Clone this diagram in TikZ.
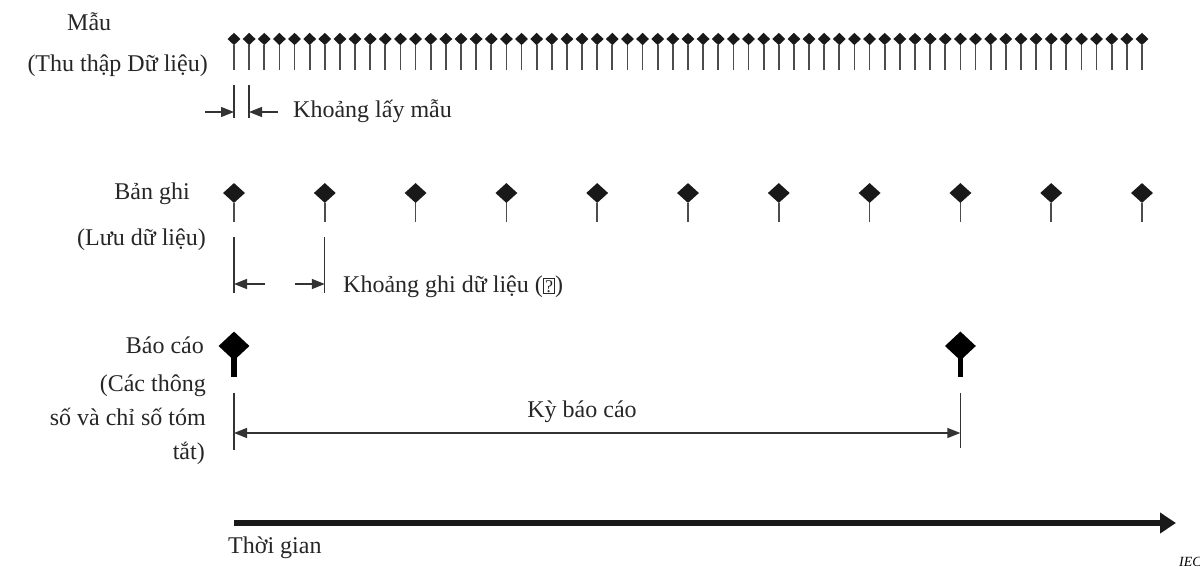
\documentclass[tikz,border=0pt]{standalone}
\usepackage{fontspec}
\setmainfont{Liberation Serif}
\usetikzlibrary{shapes.geometric,arrows.meta}
\begin{document}
\begin{tikzpicture}[x=1pt,y=-1pt,
 lbl/.style={font=\fontsize{24}{28}\selectfont, inner sep=0, text=black!85},
 smp/.style={diamond, fill=black!90, inner sep=0, minimum width=13, minimum height=12.5},
 rec/.style={diamond, fill=black!90, inner sep=0, minimum width=22, minimum height=20},
 rep/.style={diamond, fill=black, inner sep=0, minimum width=31, minimum height=29},
 stem/.style={draw=black!70, line width=1.7},
 dim/.style={draw=black!80, line width=1.3},
 arr/.style={dim, -{Triangle[length=13,width=10]}},
 darr/.style={dim, {Triangle[length=13,width=10]}-{Triangle[length=13,width=10]}},
]
\useasboundingbox (0,0) rectangle (1200,567);
% samples
\foreach \i in {0,...,60} {
  \pgfmathsetmacro\xx{234+\i*15.133}
  \coordinate (se\i) at (\xx,70);
  \node[smp] (s\i) at (\xx,39) {};
  \draw[stem] (s\i.south) -- (se\i);
}
% records
\foreach \i in {0,...,10} {
  \pgfmathsetmacro\xx{234+\i*90.8}
  \coordinate (re\i) at (\xx,222);
  \node[rec] (r\i) at (\xx,193) {};
  \draw[stem] (r\i.south) -- (re\i);
}
% reports
\coordinate (pe0) at (234,377);
\coordinate (pe1) at (960.4,377);
\draw[line width=5.8] (234,350) -- (pe0);
\draw[line width=5.8] (960.4,350) -- (pe1);
\node[rep] (p0) at (234,346) {};
\node[rep] (p1) at (960.4,346) {};
% labels
\node[lbl, anchor=base west] (lm) at (67,31) {Mẫu};
\node[lbl, anchor=base east] (lm2) at (208,72) {(Thu thập Dữ liệu)};
\node[lbl, anchor=base east] (lb) at (190,200) {Bản ghi};
\node[lbl, anchor=base east] (lb2) at (206,245) {(Lưu dữ liệu)};
\node[lbl, anchor=base east] (lr) at (204,353) {Báo cáo};
\node[lbl, anchor=base east] (lr2) at (206,391) {(Các thông};
\node[lbl, anchor=base east] (lr3) at (206,425) {số và chỉ số tóm};
\node[lbl, anchor=base east] (lr4) at (205,459) {tắt)};
% sampling interval
\coordinate (a1) at (234,85); \coordinate (a2) at (234,118);
\coordinate (b1) at (249,85); \coordinate (b2) at (249,118);
\draw[dim] (a1) -- (a2);
\draw[dim] (b1) -- (b2);
\coordinate (at) at (205,112); \coordinate (ah) at (234,112);
\coordinate (bt) at (278,112); \coordinate (bh) at (249,112);
\draw[arr] (at) -- (ah);
\draw[arr] (bt) -- (bh);
\node[lbl, anchor=base west] (ks) at (293,118) {Khoảng lấy mẫu};
% record interval
\coordinate (c1) at (234,237); \coordinate (c2) at (234,293);
\coordinate (d1) at (324.8,237); \coordinate (d2) at (324.8,293);
\draw[dim] (c1) -- (c2);
\draw[dim] (d1) -- (d2);
\coordinate (ct) at (265,284); \coordinate (ch) at (234,284);
\coordinate (dt) at (295,284); \coordinate (dh) at (324.8,284);
\draw[arr] (ct) -- (ch);
\draw[arr] (dt) -- (dh);
\node[lbl, anchor=base west] (kr) at (343,292) {Khoảng ghi dữ liệu ({\setlength{\fboxsep}{1.2pt}\setlength{\fboxrule}{1pt}\fbox{\fontsize{18}{18}\selectfont ?}})};
% reporting period
\coordinate (e1) at (234,393); \coordinate (e2) at (234,450);
\coordinate (f1) at (960.4,393); \coordinate (f2) at (960.4,448);
\draw[dim] (e1) -- (e2);
\draw[dim] (f1) -- (f2);
\coordinate (eh) at (234,433); \coordinate (fh) at (960.4,433);
\draw[darr] (eh) -- (fh);
\node[lbl, anchor=base] (kb) at (582,417) {Kỳ báo cáo};
% time axis
\coordinate (t0) at (234,523); \coordinate (t1) at (1176,523);
\draw[line width=5.8, draw=black!90, -{Triangle[length=16,width=20]}] (t0) -- (t1);
\node[lbl, anchor=base west] (tg) at (228,553) {Thời gian};
\node[inner sep=0, anchor=base west, font=\fontsize{14}{14}\selectfont\itshape] (iec) at (1179,566) {IEC};
\end{tikzpicture}
\end{document}
